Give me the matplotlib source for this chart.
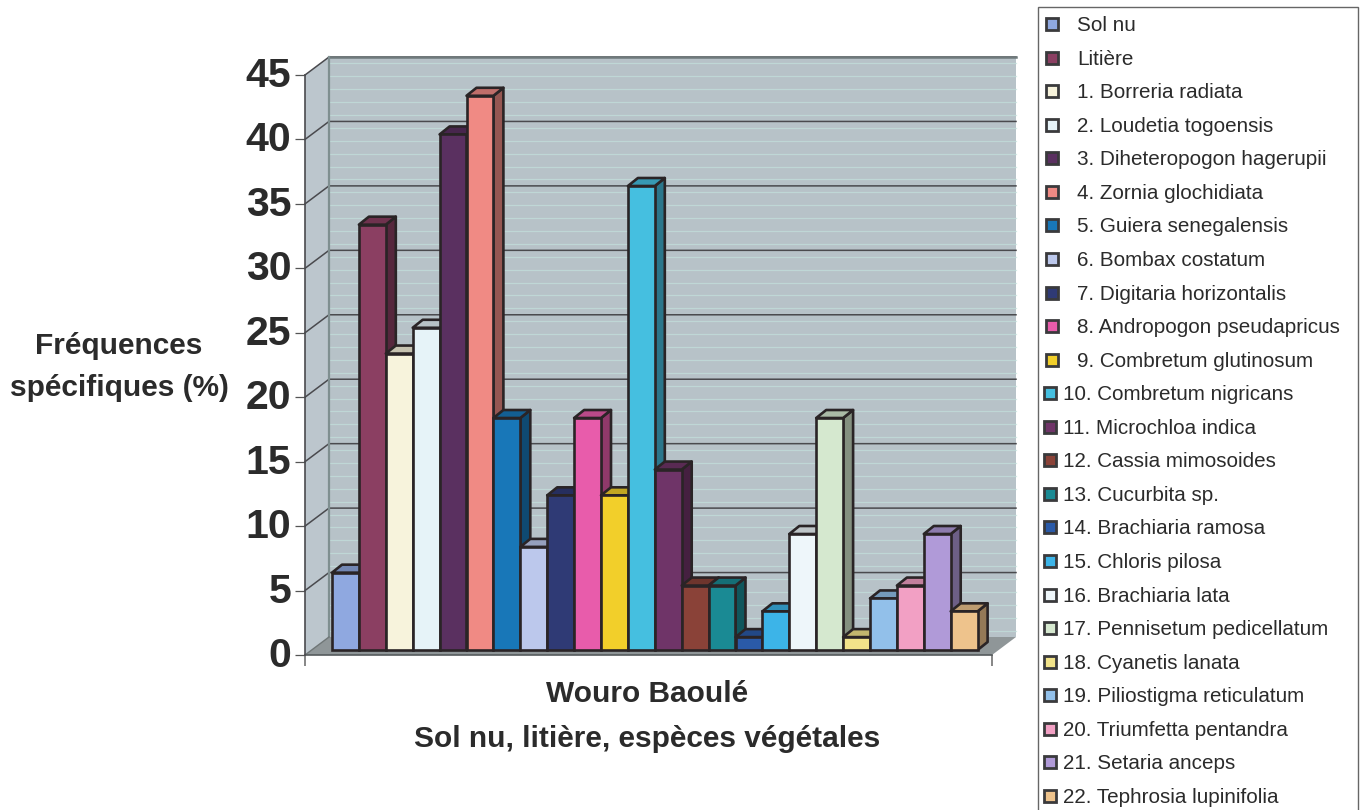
import matplotlib
matplotlib.use("Agg")
import matplotlib.pyplot as plt
from matplotlib.patches import Polygon, Rectangle
from matplotlib.colors import to_rgb
from matplotlib.transforms import ScaledTranslation

plt.rcParams['font.family'] = ['Liberation Sans', 'DejaVu Sans']

species = ["Sol nu", "Litière", "1. Borreria radiata", "2. Loudetia togoensis",
           "3. Diheteropogon hagerupii", "4. Zornia glochidiata", "5. Guiera senegalensis",
           "6. Bombax costatum", "7. Digitaria horizontalis", "8. Andropogon pseudapricus",
           "9. Combretum glutinosum", "10. Combretum nigricans", "11. Microchloa indica",
           "12. Cassia mimosoides", "13. Cucurbita sp.", "14. Brachiaria ramosa",
           "15. Chloris pilosa", "16. Brachiaria lata", "17. Pennisetum pedicellatum",
           "18. Cyanetis lanata", "19. Piliostigma reticulatum", "20. Triumfetta pentandra",
           "21. Setaria anceps", "22. Tephrosia lupinifolia"]
values = [6, 33, 23, 25, 40, 43, 18, 8, 12, 18, 12, 36, 14, 5, 5, 1, 3, 9, 18, 1, 4, 5, 9, 3]
colors = ["#8fa8e0", "#8b3f62", "#f7f3dc", "#e6f3f8", "#5a3060", "#f08a84", "#1877b8", "#bcc8ec",
          "#2f3a75", "#e85cab", "#f2cf2a", "#45bfe0", "#6f3468", "#8a4238", "#1a8a94", "#2a5aa8",
          "#3cb4e8", "#eef6fa", "#d5e8cf", "#f2e38a", "#92c0ea", "#f2a0c4", "#b09ad8", "#eec38c"]
y_ticks = [0, 5, 10, 15, 20, 25, 30, 35, 40, 45]

W, H = 1360, 810
INK = "#2a2426"
fig = plt.figure(figsize=(W / 100, H / 100), dpi=100, facecolor="white")

# axes = front plane of the 3-D box
L, R, B, T = 305, 992, 655, 75
ax = fig.add_axes([L / W, (H - B) / H, (R - L) / W, (B - T) / H])
BAR_PX = 26.9
YPX = (B - T) / 45
ax.set_xlim(-27 / BAR_PX, (R - L - 27) / BAR_PX)
ax.set_ylim(0, 45)
ax.patch.set_visible(False)
for s in ax.spines.values():
    s.set_visible(False)

wx, wy = 24 / BAR_PX, 18 / YPX      # depth of the box
x0, x1 = ax.get_xlim()

# walls and floor
add = lambda pts, **k: ax.add_patch(Polygon(pts, closed=True, clip_on=False, **k))
add([(x0 + wx, wy), (x1 + wx, wy), (x1 + wx, 45 + wy), (x0 + wx, 45 + wy)],
    facecolor="#b7c2c8", edgecolor="none", zorder=1)
add([(x0, 0), (x0 + wx, wy), (x0 + wx, 45 + wy), (x0, 45)],
    facecolor="#bcc6cd", edgecolor="none", zorder=1)
add([(x0, 0), (x1, 0), (x1 + wx, wy), (x0 + wx, wy)],
    facecolor="#8f9698", edgecolor="none", zorder=1.2)

# faint scan stripes on the wall
for v in range(0, 45):
    ax.plot([x0 + wx, x1 + wx], [v + wy + 0.5] * 2, color="#c3e0dc", lw=0.9, alpha=0.7,
            zorder=1.1, clip_on=False)

# grid
for v in y_ticks[1:]:
    ax.plot([x0, x0 + wx, x1 + wx], [v, v + wy, v + wy], color="#4a4a4e", lw=1.1, zorder=1.5, clip_on=False)
ax.plot([x0 + wx, x1 + wx], [45 + wy] * 2, color="#6f7a7c", lw=1.8, zorder=1.5, clip_on=False)
ax.plot([x0 + wx] * 2, [wy, 45 + wy], color="#7f8f90", lw=1.6, zorder=1.5, clip_on=False)
ax.plot([x0, x0 + wx], [0, wy], color="#6f7677", lw=1, zorder=1.5, clip_on=False)
ax.plot([x0, x1], [0, 0], color="#555a5c", lw=1.2, zorder=1.6, clip_on=False)
ax.plot([x0, x0], [0, 45], color="#4a4a4e", lw=1.2, zorder=1.6, clip_on=False)

# bars
base = 5 / YPX
dx, dy = 10 / BAR_PX, 8 / YPX
shade = lambda c, f: tuple(v * f for v in to_rgb(c))
LW = 1.9
for i, (v, c) in enumerate(zip(values, colors)):
    z = 3 + i * 0.01
    top = base + v
    add([(i + 1, base), (i + 1 + dx, base + dy), (i + 1 + dx, top + dy), (i + 1, top)],
        facecolor=shade(c, 0.62), edgecolor=INK, lw=LW, joinstyle="round", zorder=z)
    add([(i, top), (i + 1, top), (i + 1 + dx, top + dy), (i + dx, top + dy)],
        facecolor=shade(c, 0.8), edgecolor=INK, lw=LW, joinstyle="round", zorder=z)
    ax.bar(i, v, width=1, bottom=base, align="edge", color=c, edgecolor=INK, lw=LW, zorder=z + 0.001)

# axes ticks
ax.set_yticks(y_ticks)
ax.set_yticklabels([str(v) for v in y_ticks], fontsize=29.5, fontweight="bold", color="#2b2b2b")
ax.tick_params(axis="y", length=7.5, width=0.9, color="#555555", pad=2.5)
for lab in ax.get_yticklabels():
    lab.set_transform(lab.get_transform() + ScaledTranslation(0, 3 / 100, fig.dpi_scale_trans))
ax.set_xticks([x0, x1])
ax.set_xticklabels(["", ""])
ax.tick_params(axis="x", length=8, width=1.1, color="#666666")

# titles
TXT = "#2b2b2b"
def px_text(x, y, s, **k):
    fig.text(x / W, 1 - y / H, s, color=TXT, va="center", **k)

px_text(119, 346, "Fréquences", ha="center", fontsize=21.5, fontweight="bold")
px_text(119, 388, "spécifiques (%)", ha="center", fontsize=21.5, fontweight="bold")
px_text(647, 694, "Wouro Baoulé", ha="center", fontsize=21.5, fontweight="bold")
px_text(647, 739, "Sol nu, litière, espèces végétales", ha="center", fontsize=21.5, fontweight="bold")

# legend box, running off the page bottom as in the scan
fig.patches.append(Rectangle((1038 / W, -0.01), 320 / W, 1.01 - 7 / H, transform=fig.transFigure,
                             facecolor="white", edgecolor="#666666", lw=1.0, figure=fig))
LEG_Y0, LEG_STEP = 24, (796 - 24) / 23
for i, (name, c) in enumerate(zip(species, colors)):
    y = LEG_Y0 + i * LEG_STEP
    two_digit = name[:2].isdigit()
    mx = 1050 if two_digit else 1052
    s = 12
    fig.patches.append(Rectangle(((mx - s / 2) / W, 1 - (y + s / 2) / H), s / W, s / H,
                                 transform=fig.transFigure, facecolor=c, edgecolor="#3a3a3c",
                                 lw=2.0, figure=fig))
    px_text(1063 if two_digit else 1077, y + 1.5, name, ha="left", fontsize=14.9)

fig.savefig("out.png", dpi=100, facecolor="white")
